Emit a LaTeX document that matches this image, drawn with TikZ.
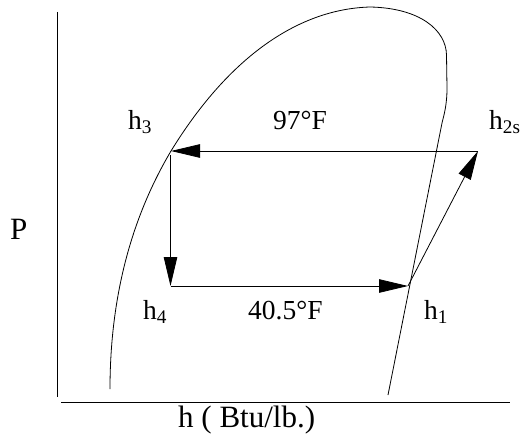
\documentclass[tikz,border=0pt]{standalone}
\usepackage{fontspec}
\setmainfont{Liberation Serif}
\usetikzlibrary{arrows.meta}
\begin{document}
\begin{tikzpicture}[x=1pt,y=-1pt,
  lbl/.style={anchor=base west,inner sep=0pt,font=\fontsize{27.5}{33}\selectfont},
  big/.style={anchor=base west,inner sep=0pt,font=\fontsize{31}{37}\selectfont},
  ln/.style={line width=0.8pt},
  arr/.style={line width=0.8pt,-{Triangle[length=29pt,width=13.5pt]}}]
\useasboundingbox (0,0) rectangle (521,433);
% axes
\coordinate (ytop) at (57.5,12);
\coordinate (ybot) at (57.5,397);
\coordinate (xl) at (61,402.5);
\coordinate (xr) at (510,402.5);
\draw[ln] (ytop) -- (ybot);
\draw[ln] (xl) -- (xr);
% cycle points
\coordinate (p3) at (171,151);
\coordinate (p2) at (478,151);
\coordinate (p4) at (170.5,286);
\coordinate (p1) at (408,286);
\coordinate (p3b) at (170.5,155);
% dome
\draw[ln] (110,389) .. controls (110,300) and (130,220) .. (p3)
  .. controls (230,55) and (300,9) .. (370,7)
  .. controls (420,8) and (446,30) .. (446.5,55)
  -- (447,88) .. controls (447,105) and (444,115) .. (442,123)
  -- (388,395);
% cycle arrows
\draw[arr] (p2) -- (p3);
\draw[arr] (p3b) -- (p4);
\draw[arr] (p4) -- (p1);
\draw[arr] (p1) -- (p2);
% labels
\node[lbl] (l3) at (128,129) {h\textsubscript{3}};
\node[lbl] (t97) at (273,129) {97°F};
\node[lbl] (l2) at (489,129) {h\textsubscript{2s}};
\node[lbl] (l4) at (143,319) {h\textsubscript{4}};
\node[lbl] (t40) at (248,319) {40.5°F};
\node[lbl] (l1) at (424,319) {h\textsubscript{1}};
\node[big] (P) at (10,239) {P};
\node[big] (xlab) at (178,427) {h ( Btu/lb.)};
\end{tikzpicture}
\end{document}
